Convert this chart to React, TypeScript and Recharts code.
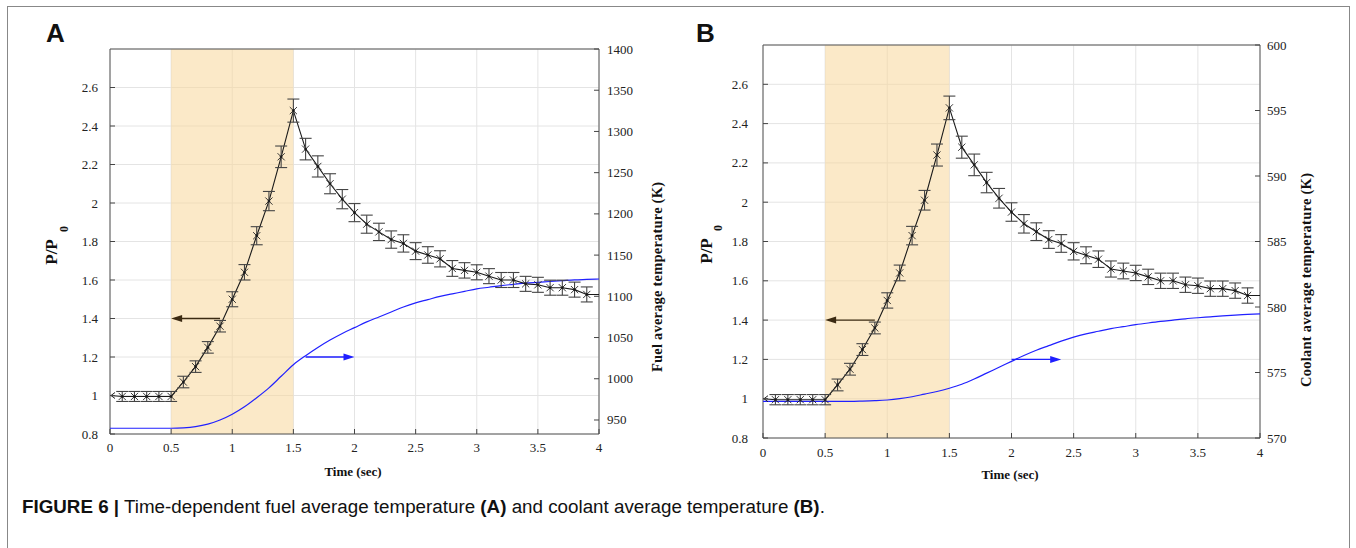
import React from "react";
import {
  CartesianGrid,
  ComposedChart,
  ErrorBar,
  Line,
  ReferenceArea,
  ReferenceLine,
  Scatter,
  XAxis,
  YAxis,
} from "recharts";

// time (sec), sampled every 0.1 s
const time = [
  0, 0.1, 0.2, 0.3, 0.4, 0.5, 0.6, 0.7, 0.8, 0.9, 1.0, 1.1, 1.2, 1.3, 1.4, 1.5, 1.6, 1.7, 1.8, 1.9, 2.0,
  2.1, 2.2, 2.3, 2.4, 2.5, 2.6, 2.7, 2.8, 2.9, 3.0, 3.1, 3.2, 3.3, 3.4, 3.5, 3.6, 3.7, 3.8, 3.9, 4.0,
];
// relative power P/P0
const power = [
  1.0, 0.995, 0.995, 0.995, 0.995, 0.995, 1.07, 1.15, 1.25, 1.36, 1.5, 1.64, 1.83, 2.01, 2.24, 2.48,
  2.28, 2.19, 2.1, 2.02, 1.95, 1.89, 1.85, 1.81, 1.79, 1.75, 1.73, 1.71, 1.66, 1.65, 1.64, 1.62, 1.6,
  1.6, 1.58, 1.575, 1.56, 1.56, 1.55, 1.525, 1.525,
];
// half-width of the error bars
const powerErr = [
  0, 0.026, 0.026, 0.026, 0.026, 0.026, 0.03, 0.03, 0.03, 0.03, 0.039, 0.04, 0.047, 0.05, 0.056, 0.06,
  0.056, 0.055, 0.052, 0.05, 0.047, 0.047, 0.045, 0.045, 0.045, 0.044, 0.043, 0.042, 0.041, 0.04, 0.039,
  0.039, 0.039, 0.039, 0.039, 0.039, 0.039, 0.039, 0.039, 0.039, 0,
];
// fuel average temperature (K)
const fuelTemp = [
  940, 940, 940, 940, 940, 940, 940.5, 942, 945, 950, 957, 966, 977, 989, 1003, 1017, 1028, 1038, 1047,
  1055, 1062, 1069, 1075, 1081, 1087, 1092, 1096, 1100, 1103, 1106, 1109, 1111, 1113, 1114.5, 1116,
  1117, 1118, 1119, 1120, 1120.5, 1121,
];
// coolant average temperature (K)
const coolantTemp = [
  572.8, 572.8, 572.8, 572.8, 572.8, 572.8, 572.8, 572.8, 572.82, 572.85, 572.9, 573.0, 573.15, 573.35,
  573.55, 573.8, 574.1, 574.5, 574.95, 575.4, 575.85, 576.3, 576.7, 577.05, 577.4, 577.7, 577.95,
  578.15, 578.35, 578.5, 578.65, 578.78, 578.9, 579.0, 579.1, 579.18, 579.25, 579.32, 579.38, 579.43,
  579.48,
];

const timeTicks = [0, 0.5, 1, 1.5, 2, 2.5, 3, 3.5, 4];
const powerTicks = [0.8, 1, 1.2, 1.4, 1.6, 1.8, 2, 2.2, 2.4, 2.6];
const fuelTicks = [950, 1000, 1050, 1100, 1150, 1200, 1250, 1300, 1350, 1400];
const coolantTicks = [570, 575, 580, 585, 590, 595, 600];

const SERIF = "'Liberation Serif', 'DejaVu Serif', serif";
const SANS = "'Liberation Sans', Arial, sans-serif";
const H = 548;

type Box = { l: number; r: number; t: number; b: number };

const tickText = { fontFamily: SERIF, fontSize: 13, fill: "#222" };

function Arrow(color: string) {
  return (p: any) => {
    const { x1, y1, x2, y2 } = p;
    const dir = x2 > x1 ? 1 : -1;
    return (
      <g>
        <line x1={x1} y1={y1} x2={x2 - dir * 8} y2={y2} stroke={color} strokeWidth={1.4} />
        <polygon
          points={`${x2},${y2} ${x2 - dir * 11},${y2 - 3.5} ${x2 - dir * 11},${y2 + 3.5}`}
          fill={color}
        />
      </g>
    );
  };
}

function XMark(p: any) {
  const { cx, cy } = p;
  const s = 3.6;
  return (
    <g stroke="#222" strokeWidth={0.9}>
      <line x1={cx - s} y1={cy - s} x2={cx + s} y2={cy + s} />
      <line x1={cx - s} y1={cy + s} x2={cx + s} y2={cy - s} />
      <circle cx={cx} cy={cy} r={1} fill="#111" />
    </g>
  );
}

function Panel({
  left,
  width,
  box,
  temp,
  tempDomain,
  tempTicks,
  blueArrow,
  leftLabelGap,
  rightLabelGap,
  bottomLabelGap,
}: {
  left: number;
  width: number;
  box: Box;
  temp: number[];
  tempDomain: [number, number];
  tempTicks: number[];
  blueArrow: [number, number];
  leftLabelGap: number;
  rightLabelGap: number;
  bottomLabelGap: number;
}) {
  const data = time.map((t, i) => ({ t, p: power[i], temp: temp[i] }));
  const markers = time.slice(1, 40).map((t, i) => ({ t, p: power[i + 1], err: powerErr[i + 1] }));

  const leftTick = (p: any) => (
    <g>
      <line x1={box.l} x2={box.l + 5} y1={p.y} y2={p.y} stroke="#444" />
      <text x={box.l - leftLabelGap} y={p.y} textAnchor="end" dominantBaseline="central" style={tickText}>
        {p.payload.value}
      </text>
    </g>
  );
  const rightTick = (p: any) => (
    <g>
      <line x1={box.r - 5} x2={box.r} y1={p.y} y2={p.y} stroke="#444" />
      <text x={box.r + rightLabelGap} y={p.y} textAnchor="start" dominantBaseline="central" style={tickText}>
        {p.payload.value}
      </text>
    </g>
  );
  const bottomTick = (p: any) => (
    <g>
      <line x1={p.x} x2={p.x} y1={box.b} y2={box.b - 5} stroke="#444" />
      <text x={p.x} y={box.b + bottomLabelGap} textAnchor="middle" dominantBaseline="central" style={tickText}>
        {p.payload.value}
      </text>
    </g>
  );

  const leadDot = (p: any) => {
    if (p.index !== 0) return <g key={p.index} />;
    return (
      <polyline key={p.index} points={`${p.cx + 5},${p.cy - 3} ${p.cx + 1},${p.cy} ${p.cx + 5},${p.cy + 3}`}
        fill="none" stroke="#222" strokeWidth={1} />
    );
  };

  return (
    <div style={{ position: "absolute", left, top: 0 }}>
      <ComposedChart
        width={width}
        height={H}
        data={data}
        margin={{ top: box.t, left: box.l - 40, right: width - box.r - 40, bottom: H - box.b - 30 }}
      >
        <CartesianGrid yAxisId="left" stroke="#e4e4e4" strokeWidth={1} />
        <XAxis
          dataKey="t"
          type="number"
          domain={[0, 4]}
          ticks={timeTicks}
          interval={0}
          height={30}
          axisLine={false}
          tickLine={false}
          tick={bottomTick}
        />
        <YAxis
          yAxisId="left"
          type="number"
          domain={[0.8, 2.8]}
          ticks={powerTicks}
          interval={0}
          width={40}
          axisLine={false}
          tickLine={false}
          tick={leftTick}
        />
        <YAxis
          yAxisId="right"
          orientation="right"
          type="number"
          domain={tempDomain}
          ticks={tempTicks}
          interval={0}
          width={40}
          allowDataOverflow
          axisLine={false}
          tickLine={false}
          tick={rightTick}
        />
        <ReferenceArea yAxisId="left" x1={0.5} x2={1.5} y1={0.8} y2={2.8}
          fill="#f8d79b" fillOpacity={0.55} stroke="none" />
        <Line yAxisId="right" dataKey="temp" type="monotone" stroke="#2020ff" strokeWidth={1.2}
          dot={false} isAnimationActive={false} />
        <Line yAxisId="left" dataKey="p" type="linear" stroke="#1a1a1a" strokeWidth={1.1}
          dot={leadDot} activeDot={false} isAnimationActive={false} />
        <Scatter yAxisId="left" data={markers} dataKey="p" shape={XMark} isAnimationActive={false}>
          <ErrorBar dataKey="err" direction="y" width={6} stroke="#444" strokeWidth={1.1} />
        </Scatter>
        <ReferenceLine yAxisId="left" segment={[{ x: 0.9, y: 1.4 }, { x: 0.5, y: 1.4 }]}
          shape={Arrow("#3b2a12")} />
        <ReferenceLine yAxisId="left" segment={[{ x: blueArrow[0], y: 1.2 }, { x: blueArrow[1], y: 1.2 }]}
          shape={Arrow("#1f1fff")} />
        <ReferenceArea yAxisId="left" x1={0} x2={4} y1={0.8} y2={2.8}
          fill="none" stroke="#555" strokeWidth={1} />
      </ComposedChart>
    </div>
  );
}

function Titles() {
  const bold = { fontFamily: SERIF, fontWeight: 700, fill: "#111" };
  const vert = (x: number, y: number, s: string, size: number, len?: number) => (
    <text x={x} y={y} transform={`rotate(-90 ${x} ${y})`} textAnchor="middle"
      dominantBaseline="central" style={{ ...bold, fontSize: size }}
      textLength={len} lengthAdjust={len ? "spacing" : undefined}>
      {s}
    </text>
  );
  const letter = { fontFamily: SANS, fontWeight: 700, fontSize: 26, fill: "#111" };
  return (
    <svg width={1356} height={H} style={{ position: "absolute", left: 0, top: 0, pointerEvents: "none" }}>
      <text x={46} y={42} style={letter}>A</text>
      <text x={696} y={42} style={letter}>B</text>
      {vert(51, 252, "P/P", 17)}
      {vert(64, 229, "0", 12)}
      {vert(706, 251, "P/P", 17)}
      {vert(718, 228, "0", 12)}
      {vert(657, 277, "Fuel average temperature (K)", 14.5, 190)}
      {vert(1306, 280, "Coolant average temperature (K)", 14.5, 214)}
      <text x={353} y={471} textAnchor="middle" dominantBaseline="central" style={{ ...bold, fontSize: 13 }}>
        Time (sec)
      </text>
      <text x={1010} y={474} textAnchor="middle" dominantBaseline="central" style={{ ...bold, fontSize: 13 }}>
        Time (sec)
      </text>
    </svg>
  );
}

export default function App() {
  return (
    <div style={{ position: "absolute", left: 0, top: 0, width: 1356, height: H, overflow: "hidden", background: "#fff" }}>
      <div style={{ position: "absolute", left: 7, top: 6, width: 1341, height: 600,
        borderLeft: "1.5px solid #888", borderTop: "1.5px solid #888", borderRight: "1.5px solid #888" }} />
      <Panel left={0} width={680} box={{ l: 110, r: 599, t: 49, b: 434 }} temp={fuelTemp}
        tempDomain={[933, 1400]} tempTicks={fuelTicks} blueArrow={[1.6, 2.0]}
        leftLabelGap={12} rightLabelGap={8} bottomLabelGap={13} />
      <Panel left={680} width={676} box={{ l: 83, r: 580, t: 45, b: 438 }} temp={coolantTemp}
        tempDomain={[570, 600]} tempTicks={coolantTicks} blueArrow={[2.0, 2.4]}
        leftLabelGap={15} rightLabelGap={7} bottomLabelGap={14} />
      <Titles />
      <div style={{ position: "absolute", left: 22, top: 495, fontFamily: SANS, fontSize: 18.8,
        lineHeight: "24px", color: "#111", whiteSpace: "nowrap" }}>
        <b>FIGURE 6 |</b> Time-dependent fuel average temperature <b>(A)</b> and coolant average
        temperature <b>(B)</b>.
      </div>
    </div>
  );
}
